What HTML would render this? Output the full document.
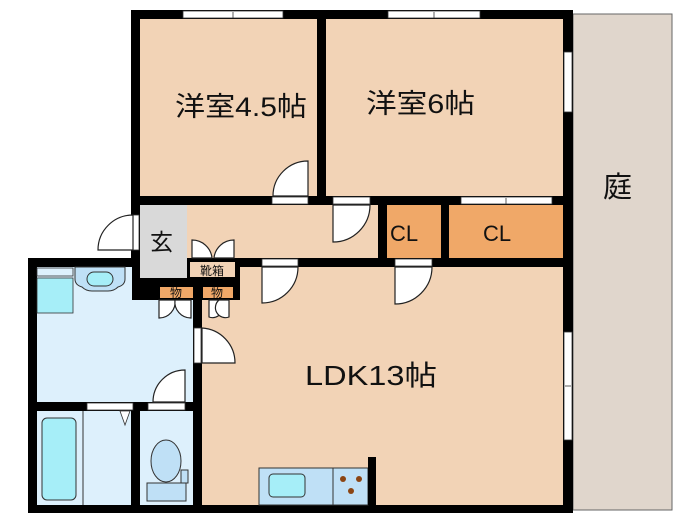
<!DOCTYPE html>
<html><head><meta charset="utf-8"><style>
html,body{margin:0;padding:0;background:#fff;}
svg{display:block;}
text{font-family:"Liberation Sans","Noto Sans CJK JP",sans-serif;fill:#111;}
</style></head><body>
<svg width="700" height="525" viewBox="0 0 700 525" xmlns="http://www.w3.org/2000/svg">
<rect x="573" y="14" width="99" height="496" fill="#e0d6cc" stroke="#666" stroke-width="1"/>
<rect x="131" y="10" width="442" height="268" fill="#000"/>
<rect x="28" y="258" width="545" height="255" fill="#000"/>
<rect x="140" y="19" width="177" height="177" fill="#f2d3b6"/>
<rect x="326" y="19" width="237" height="177" fill="#f2d3b6"/>
<rect x="187" y="205" width="191" height="53" fill="#f2d3b6"/>
<rect x="140" y="205" width="47" height="73" fill="#d9d9d9"/>
<rect x="387" y="205" width="54" height="53" fill="#f0a868"/>
<rect x="449" y="205" width="114" height="53" fill="#f0a868"/>
<!-- LDK -->
<rect x="240" y="267" width="323" height="238" fill="#f2d3b6"/>
<rect x="202" y="300" width="40" height="205" fill="#f2d3b6"/>
<rect x="190" y="262" width="45" height="15" fill="#f2d3b6"/>
<rect x="160" y="287" width="33" height="11" fill="#f0a868"/>
<rect x="203" y="287" width="30" height="11" fill="#f0a868"/>
<!-- wet area -->
<rect x="37" y="267" width="95" height="135" fill="#ddf0fc"/>
<rect x="131" y="300" width="62" height="102" fill="#ddf0fc"/>
<rect x="37" y="411" width="94" height="94" fill="#ddf0fc"/>
<rect x="140" y="411" width="53" height="94" fill="#ddf0fc"/>
<line x1="83" y1="411" x2="83" y2="505" stroke="#333" stroke-width="1"/>
<rect x="42" y="418" width="34" height="82" rx="5" fill="#a6eef8" stroke="#333"/>
<ellipse cx="166" cy="461" rx="15" ry="21" fill="#bfe0f6" stroke="#333"/>
<rect x="181" y="470" width="7" height="13" fill="#bfe0f6" stroke="#333"/>
<rect x="147" y="483" width="39" height="18" fill="#bfe0f6" stroke="#333"/>
<rect x="37" y="268" width="36" height="8" fill="#ddf0fc" stroke="#333" stroke-width="0.8"/>
<rect x="37" y="278" width="36" height="35" fill="#a6eef8" stroke="#333" stroke-width="0.8"/>
<path d="M75,267 H125 V279 Q125,285 118,287 Q114,291 108,291 H92 Q86,291 82,287 Q75,285 75,279 Z" fill="#bfe0f6" stroke="#333"/>
<rect x="87" y="272" width="26" height="14" rx="7" fill="#a6eef8" stroke="#333"/>
<rect x="259" y="468" width="109" height="37" fill="#bfe0f6" stroke="#333"/>
<line x1="333" y1="468" x2="333" y2="505" stroke="#333"/>
<rect x="269" y="474" width="36" height="23" rx="4" fill="#a6eef8" stroke="#333"/>
<circle cx="343" cy="479" r="3" fill="#8b4513"/><circle cx="359" cy="479" r="3" fill="#8b4513"/><circle cx="351" cy="491" r="3" fill="#8b4513"/>
<rect x="368" y="457" width="8" height="48" fill="#000"/>
<g fill="#fff" stroke="#333" stroke-width="0.8">
<rect x="183" y="11" width="100" height="7"/><rect x="388" y="11" width="92" height="7"/>
<rect x="461" y="197" width="91" height="7"/>
<rect x="564" y="52" width="8" height="60"/><rect x="564" y="332" width="8" height="108"/>
<rect x="87" y="403" width="46" height="7"/><rect x="148" y="403" width="37" height="7"/>
<rect x="272" y="197" width="36" height="7"/><rect x="333" y="197" width="37" height="7"/>
<rect x="262" y="259" width="36" height="7"/><rect x="395" y="259" width="37" height="7"/>
<rect x="133" y="215" width="6" height="35"/><rect x="194" y="328" width="7" height="35"/>
</g>
<g stroke="#333" stroke-width="0.8">
<line x1="233" y1="12" x2="233" y2="18"/><line x1="434" y1="12" x2="434" y2="18"/><line x1="506" y1="198" x2="506" y2="204"/><line x1="565" y1="386" x2="571" y2="386"/>
</g>
<path d="M120,411 L130,411 L125,425 Z" fill="#fff" stroke="#333" stroke-width="0.8"/>
<g fill="#fff" stroke="#222" stroke-width="1.2">
<path d="M308,196 L273,196 A35,35 0 0 1 308,161 Z"/>
<path d="M333,205 L370,205 A37,37 0 0 1 333,242 Z"/>
<path d="M262,267 L298,267 A36,36 0 0 1 262,303 Z"/>
<path d="M395,267 L432,267 A37,37 0 0 1 395,304 Z"/>
<path d="M133,250 L133,215 A35,35 0 0 0 98,250 Z"/>
<path d="M202,363 L202,328 A35,35 0 0 1 235,363 Z"/>
<path d="M185,402 L185,370 A32,32 0 0 0 153,402 Z"/>
<path d="M192,258 L192,240 A20,20 0 0 1 212,258 Z"/>
<path d="M234,258 L234,240 A20,20 0 0 0 214,258 Z"/>
<path d="M159,300 L159,318 A16,16 0 0 0 175,300 Z"/>
<path d="M191,300 L191,318 A16,16 0 0 1 175,300 Z"/>
<path d="M209,300 L209,317 A10,10 0 0 0 219,300 Z"/>
<path d="M229,300 L229,317 A10,10 0 0 1 219,300 Z"/>
</g>
<text x="175" y="116" font-size="27" textLength="132" lengthAdjust="spacingAndGlyphs">洋室4.5帖</text>
<text x="366" y="113" font-size="27" textLength="109" lengthAdjust="spacingAndGlyphs">洋室6帖</text>
<text x="603" y="197" font-size="29">庭</text>
<text x="305" y="385" font-size="28" textLength="132" lengthAdjust="spacingAndGlyphs">LDK13帖</text>
<text x="390" y="241" font-size="22">CL</text>
<text x="483" y="241" font-size="22">CL</text>
<text x="150" y="250" font-size="23">玄</text>
<text x="200" y="275" font-size="12">靴箱</text>
<text x="170" y="297" font-size="12">物</text>
<text x="211" y="297" font-size="12">物</text>
</svg>
</body></html>
